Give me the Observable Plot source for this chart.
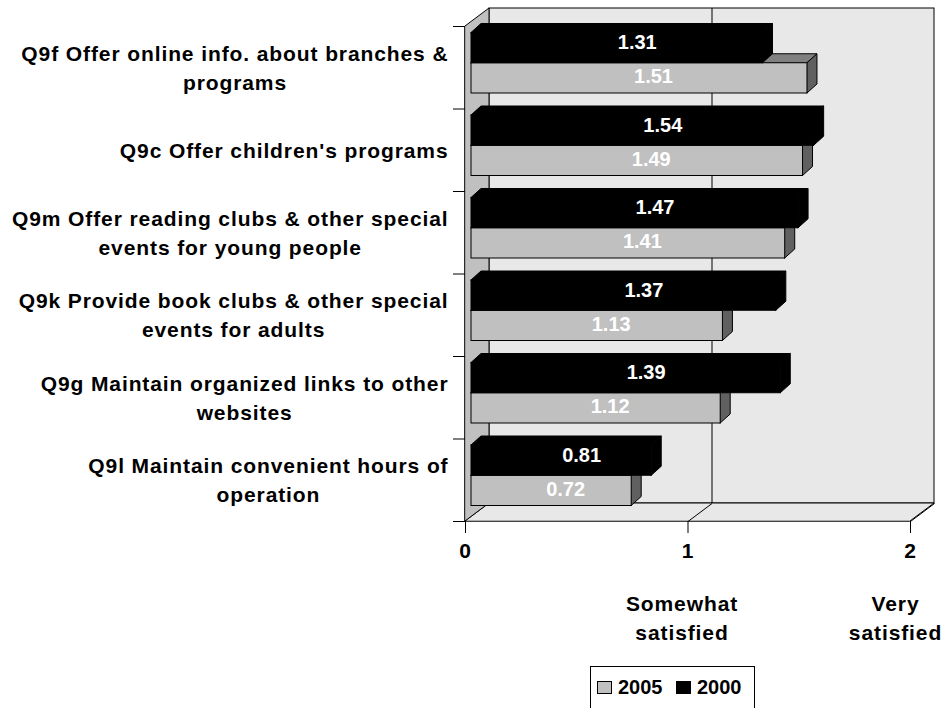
<!DOCTYPE html>
<html>
<head>
<meta charset="utf-8">
<script src="https://cdn.jsdelivr.net/npm/d3@7"></script>
<script src="https://cdn.jsdelivr.net/npm/@observablehq/plot@0.6"></script>
<style>
  html, body { margin: 0; padding: 0; background: #fff; overflow: hidden; }
  #chart { position: relative; width: 950px; height: 708px; }
  #chart svg { display: block; }
  .legend {
    position: absolute; left: 590px; top: 666px; width: 165px; height: 70px;
    box-sizing: border-box; border: 1px solid #000; background: #fff;
    font: bold 20px "Liberation Sans", Arial, sans-serif; line-height: 20px;
  }
  .legend .sw { position: absolute; top: 14px; width: 15px; height: 13px; box-sizing: border-box; border: 1px solid #000; }
  .legend .lb { position: absolute; top: 10px; }
</style>
</head>
<body>
<div id="chart"></div>
<script>
// Satisfaction with library services, 2000 vs 2005 (0 = not, 1 = somewhat, 2 = very satisfied)
const categories = [
  "Q9f Offer online info. about branches &\nprograms",
  "Q9c Offer children's programs",
  "Q9m Offer reading clubs & other special\nevents for young people",
  "Q9k Provide book clubs & other special\nevents for adults",
  "Q9g Maintain organized links to other\nwebsites",
  "Q9l Maintain convenient hours of\noperation"
];
const values2000 = [1.31, 1.54, 1.47, 1.37, 1.39, 0.81];
const values2005 = [1.51, 1.49, 1.41, 1.13, 1.12, 0.72];
const seriesNames = ["2005", "2000"];
const xTicks = [0, 1, 2];
const scaleNotes = ["Somewhat\nsatisfied", "Very\nsatisfied"]; // under ticks 1 and 2

// ---- layout (pixels) ----
const W = 950, H = 666;
const mL = 465, mR = 40, mT = 26, mB = 145;
const xMax = xTicks[xTicks.length - 1];
const nCat = categories.length;
const ppx = (W - mL - mR) / xMax;   // pixels per x unit
const ppy = (H - mT - mB) / nCat;   // pixels per category band
const ux = p => p / ppx, uy = p => p / ppy;
const wall = {dx: 24, dy: -18};     // back wall depth
const front = {dx: 6, dy: -4.5};    // bars sit slightly behind the front plane
const depth = {dx: 10, dy: -9};     // bar thickness
const gap = uy(11), barH = uy(30.25);
const FONT = "'Liberation Sans', Arial, Helvetica, sans-serif";
const FS = 21;                      // label text size
const LS = 0.9;                     // label letter spacing

const palette = {
  "2005": {front: "#c0c0c0", top: "#808080", side: "#606060"},
  "2000": {front: "#000000", top: "#000000", side: "#000000"}
};

// one row per bar, 2000 above 2005 inside each category band
const bars = [];
categories.forEach((c, i) => {
  bars.push({series: "2000", i, v: values2000[i], y1: i + gap, y2: i + gap + barH});
  bars.push({series: "2005", i, v: values2005[i], y1: i + gap + barH, y2: i + gap + 2 * barH});
});

const topFace = b => [
  {id: b.series + b.i, y: b.y1, x1: 0, x2: b.v},
  {id: b.series + b.i, y: b.y1 + uy(depth.dy), x1: ux(depth.dx), x2: b.v + ux(depth.dx)}
];
const sideFace = b => [
  {id: b.series + b.i, x: b.v, y1: b.y1, y2: b.y2},
  {id: b.series + b.i, x: b.v + ux(depth.dx), y1: b.y1 + uy(depth.dy), y2: b.y2 + uy(depth.dy)}
];

function barMarks(name) {
  const rows = bars.filter(b => b.series === name);
  const c = palette[name];
  const shift = {dx: front.dx, dy: front.dy};
  return [
    Plot.areaX(rows.flatMap(topFace), {y: "y", x1: "x1", x2: "x2", z: "id", fill: c.top, stroke: "#000", ...shift}),
    Plot.areaY(rows.flatMap(sideFace), {x: "x", y1: "y1", y2: "y2", z: "id", fill: c.side, stroke: "#000", ...shift}),
    Plot.rect(rows, {x1: 0, x2: "v", y1: "y1", y2: "y2", fill: c.front, stroke: "#000", ...shift})
  ];
}

function valueLabels(name, dx, dy) {
  return Plot.text(bars.filter(b => b.series === name), {
    x: d => d.v / 2, y: d => (d.y1 + d.y2) / 2,
    text: d => d.v.toFixed(2), fill: "#fff",
    fontSize: 20, fontWeight: "bold", dx, dy
  });
}

// width of the widest line of a label, used to centre its lines under one another
const ctx = document.createElement("canvas").getContext("2d");
ctx.font = `bold ${FS}px ${FONT}`;
const labelWidth = s => d3.max(s.split("\n"), l => ctx.measureText(l).width + LS * l.length);

const plot = Plot.plot({
  width: W, height: H,
  marginLeft: mL, marginRight: mR, marginTop: mT, marginBottom: mB,
  x: {domain: [0, xMax], axis: null},
  y: {domain: [0, nCat], range: [mT, H - mB], axis: null},
  style: {fontFamily: FONT, fontSize: FS + "px", fontWeight: "bold", background: "#fff", overflow: "visible", color: "#000"},
  marks: [
    // back wall, floor, left wall
    Plot.rect([0], {x1: 0, x2: xMax, y1: 0, y2: nCat, dx: wall.dx, dy: wall.dy, fill: "#e8e8e8", stroke: "#000"}),
    Plot.areaX([
      {y: nCat, x1: 0, x2: xMax},
      {y: nCat + uy(wall.dy), x1: ux(wall.dx), x2: xMax + ux(wall.dx)}
    ], {y: "y", x1: "x1", x2: "x2", fill: "#e8e8e8", stroke: "#000"}),
    Plot.areaY([
      {x: 0, y1: 0, y2: nCat},
      {x: ux(wall.dx), y1: uy(wall.dy), y2: nCat + uy(wall.dy)}
    ], {x: "x", y1: "y1", y2: "y2", fill: "#c0c0c0", stroke: "#000"}),
    // gridline on the back wall and its trace across the floor
    Plot.ruleX(xTicks.filter(t => t > 0 && t < xMax), {y1: 0, y2: nCat, dx: wall.dx, dy: wall.dy, stroke: "#000"}),
    Plot.link(xTicks.filter(t => t > 0), {x1: d => d, y1: nCat, x2: d => d + ux(wall.dx), y2: nCat + uy(wall.dy), stroke: "#000"}),
    // category ticks
    Plot.ruleY(d3.range(nCat + 1), {x1: ux(-12), x2: 0, stroke: "#000"}),
    // value axis
    Plot.axisX({ticks: xTicks, tickSize: 12, tickPadding: 10, tickFormat: d => String(d), fontSize: FS, fontWeight: "bold", stroke: "#000"}),
    // bars: 2005 behind, 2000 in front
    ...barMarks("2005"),
    ...barMarks("2000"),
    valueLabels("2000", front.dx + 20, front.dy - 5.5),
    valueLabels("2005", front.dx + 14, front.dy - 1.5),
    // category labels
    ...categories.map((c, i) => Plot.text([c], {
      x: 0, y: i + 0.5, text: d => d, textAnchor: "middle", lineAnchor: "middle",
      lineHeight: 1.38, fontSize: FS, fontWeight: "bold",
      dx: -17 - labelWidth(c) / 2, dy: -2
    })),
    // scale descriptions under ticks 1 and 2
    Plot.text([scaleNotes[0]], {x: xTicks[1], y: nCat, text: d => d, lineAnchor: "middle", lineHeight: 1.38,
      fontSize: FS, fontWeight: "bold", dx: -6, dy: 95}),
    Plot.text([scaleNotes[1]], {x: xTicks[2], y: nCat, text: d => d, lineAnchor: "middle", lineHeight: 1.38,
      fontSize: FS, fontWeight: "bold", dx: -15, dy: 95})
  ]
});

// spaced-out lettering for the black label text (value labels on the bars are white and stay tight)
d3.select(plot).selectAll("text").filter(function () {
  const g = this.closest("g[fill]");
  return !(g && g.getAttribute("fill") === "#fff");
}).attr("letter-spacing", LS);

const chart = document.getElementById("chart");
chart.appendChild(plot);

// legend
const legend = document.createElement("div");
legend.className = "legend";
const swatchX = {"2005": 6, "2000": 85};
seriesNames.forEach(name => {
  const sw = document.createElement("span");
  sw.className = "sw";
  sw.style.left = swatchX[name] + "px";
  sw.style.background = palette[name].front;
  const lb = document.createElement("span");
  lb.className = "lb";
  lb.style.left = (swatchX[name] + 21) + "px";
  lb.textContent = name;
  legend.append(sw, lb);
});
chart.appendChild(legend);
</script>
</body>
</html>
